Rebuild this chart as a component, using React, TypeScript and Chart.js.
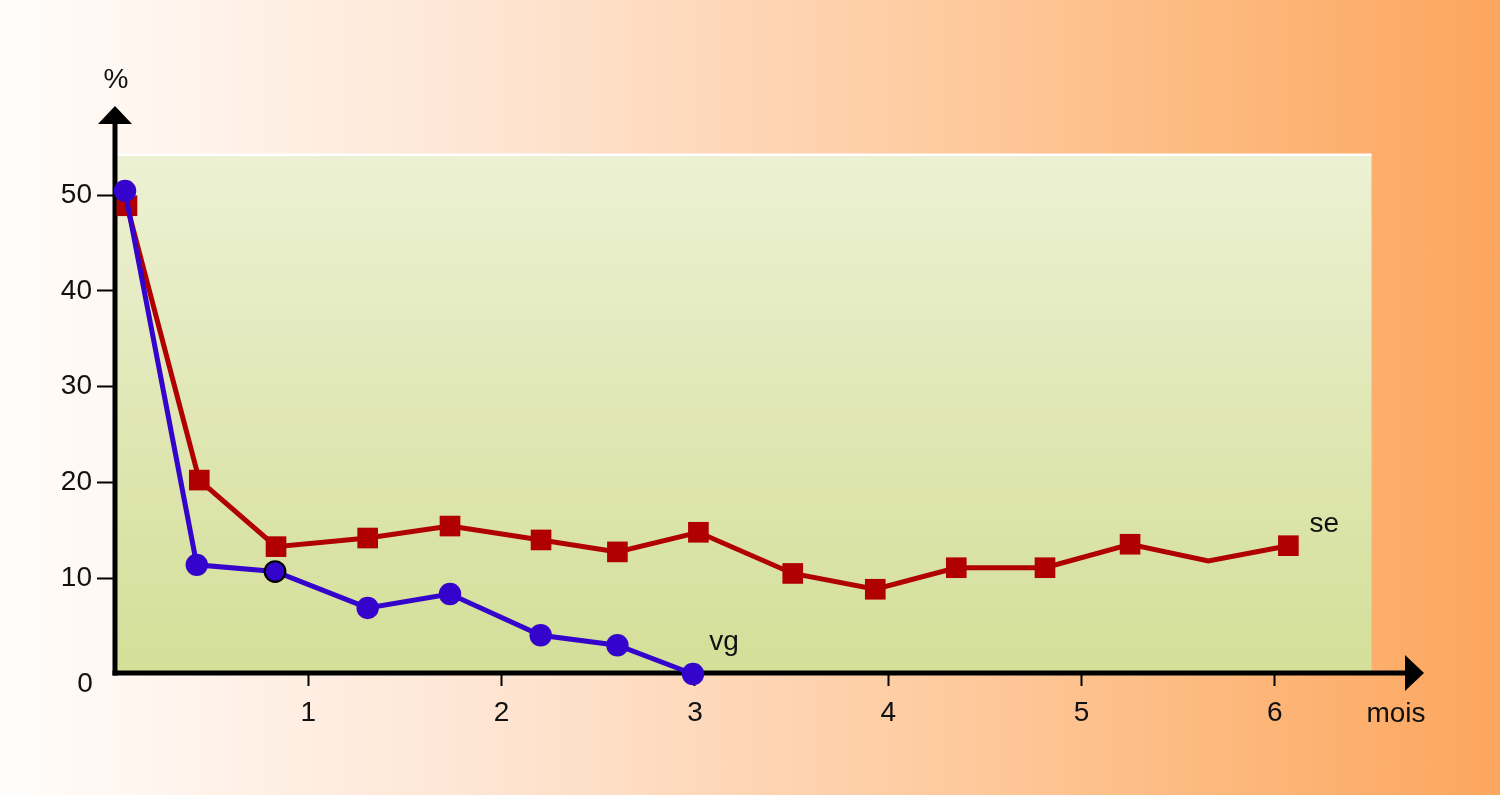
import React, { useEffect, useRef } from 'react';
import { Chart, registerables } from 'chart.js';

Chart.register(...registerables);

// ---- data ----
const seMonths = [0.062, 0.436, 0.833, 1.307, 1.733, 2.204, 2.599, 3.018, 3.506, 3.933, 4.352, 4.811, 5.251, 5.656, 6.07];
const seValues = [48.9, 20.25, 13.3, 14.2, 15.45, 14.0, 12.75, 14.8, 10.5, 8.85, 11.1, 11.1, 13.55, 11.8, 13.4];
const seMarked = [true, true, true, true, true, true, true, true, true, true, true, true, true, false, true];

const vgMonths = [0.052, 0.423, 0.828, 1.307, 1.733, 2.202, 2.599, 2.99];
const vgValues = [50.45, 11.4, 10.7, 6.9, 8.35, 4.05, 3.0, 0];
const vgOutlined = [false, false, true, false, false, false, false, false];

const xTicks = [1, 2, 3, 4, 5, 6];
const yTicks = [0, 10, 20, 30, 40, 50];

const xMax = 6.5;
const yMax = 54.2;

const seriesLabels = { se: 'se', vg: 'vg' };
const axisLabels = { y: '%', x: 'mois' };

const FONT = '"Liberation Sans", Arial, sans-serif';
const FONT_SIZE = 28;
const BLUE = '#3404cc';
const RED = '#b00000';

export default function App() {
  const canvasRef = useRef<HTMLCanvasElement | null>(null);

  useEffect(() => {
    if (!canvasRef.current) return;
    Chart.defaults.font.family = FONT;

    const backgroundPlugin = {
      id: 'plotBackground',
      beforeDraw(chart: any) {
        const { ctx, chartArea } = chart;
        const { left, right, top, bottom } = chartArea;
        ctx.save();
        const g = ctx.createLinearGradient(0, top, 0, bottom);
        g.addColorStop(0, '#edf1d4');
        g.addColorStop(0.5, '#e0e7b5');
        g.addColorStop(1, '#d4df98');
        ctx.fillStyle = g;
        ctx.fillRect(left, top, right - left, bottom - top);
        ctx.fillStyle = '#ffffff';
        ctx.fillRect(left, top - 1.5, right - left, 2.5);
        ctx.restore();
      },
    };

    const axesPlugin = {
      id: 'arrowAxes',
      beforeDatasetsDraw(chart: any) {
        const { ctx, chartArea } = chart;
        const { left, top, bottom } = chartArea;
        const yAxisX = left;
        const xAxisY = bottom - 1;
        ctx.save();
        ctx.strokeStyle = '#000';
        ctx.fillStyle = '#000';
        ctx.lineWidth = 5;
        // y axis
        ctx.beginPath();
        ctx.moveTo(yAxisX, xAxisY + 2.5);
        ctx.lineTo(yAxisX, top - 31);
        ctx.stroke();
        ctx.beginPath();
        ctx.moveTo(yAxisX - 17, top - 31);
        ctx.lineTo(yAxisX + 17, top - 31);
        ctx.lineTo(yAxisX, top - 49);
        ctx.closePath();
        ctx.fill();
        // x axis
        ctx.beginPath();
        ctx.moveTo(yAxisX - 2.5, xAxisY);
        ctx.lineTo(1407, xAxisY);
        ctx.stroke();
        ctx.beginPath();
        ctx.moveTo(1405, xAxisY - 18);
        ctx.lineTo(1405, xAxisY + 18);
        ctx.lineTo(1424, xAxisY);
        ctx.closePath();
        ctx.fill();
        ctx.restore();
      },
    };

    const textPlugin = {
      id: 'texts',
      afterDraw(chart: any) {
        const { ctx, chartArea, scales } = chart;
        const xs = scales.x;
        const ys = scales.y;
        ctx.save();
        ctx.fillStyle = '#111';
        ctx.font = `${FONT_SIZE}px ${FONT}`;
        ctx.textAlign = 'center';
        ctx.textBaseline = 'middle';
        // y axis unit
        ctx.fillText(axisLabels.y, chartArea.left + 1, chartArea.top - 75);
        // x axis unit
        ctx.fillText(axisLabels.x, 1396, chartArea.bottom + 40);
        // zero label on y axis (sits below the axis line)
        ctx.fillText('0', chartArea.left - 30, ys.getPixelForValue(0) + 10);
        // series labels
        const lastSe = seMonths.length - 1;
        ctx.fillText(seriesLabels.se, xs.getPixelForValue(seMonths[lastSe]) + 36, ys.getPixelForValue(seValues[lastSe]) - 21);
        const lastVg = vgMonths.length - 1;
        ctx.fillText(seriesLabels.vg, xs.getPixelForValue(vgMonths[lastVg]) + 31, ys.getPixelForValue(vgValues[lastVg]) - 32);
        ctx.restore();
      },
    };

    const chart = new Chart(canvasRef.current, {
      type: 'line',
      data: {
        datasets: [
          {
            label: seriesLabels.vg,
            data: vgMonths.map((m, i) => ({ x: m, y: vgValues[i] })),
            borderColor: BLUE,
            backgroundColor: BLUE,
            borderWidth: 5,
            pointStyle: 'circle',
            pointRadius: vgOutlined.map((o) => (o ? 10.3 : 11.2)),
            pointBackgroundColor: BLUE,
            pointBorderColor: vgOutlined.map((o) => (o ? '#000' : BLUE)),
            pointBorderWidth: vgOutlined.map((o) => (o ? 2.2 : 0)),
            fill: false,
            tension: 0,
            clip: false,
          } as any,
          {
            label: seriesLabels.se,
            data: seMonths.map((m, i) => ({ x: m, y: seValues[i] })),
            borderColor: RED,
            backgroundColor: RED,
            borderWidth: 5,
            pointStyle: 'rect',
            pointRadius: seMarked.map((mk) => (mk ? 14.6 : 0)),
            pointBackgroundColor: RED,
            pointBorderWidth: 0,
            fill: false,
            tension: 0,
            clip: false,
          } as any,
        ],
      },
      options: {
        animation: false,
        responsive: false,
        devicePixelRatio: 1,
        events: [],
        layout: { padding: { left: 0, top: 155, right: 128.5, bottom: 0 } },
        plugins: {
          legend: { display: false },
          tooltip: { enabled: false },
        },
        scales: {
          x: {
            type: 'linear',
            min: 0,
            max: xMax,
            afterFit: (s: any) => {
              s.height = 121;
            },
            afterBuildTicks: (s: any) => {
              s.ticks = xTicks.map((v) => ({ value: v }));
            },
            grid: {
              drawOnChartArea: false,
              drawTicks: true,
              tickLength: 12,
              tickWidth: 2,
              tickColor: '#000',
            },
            border: { display: false },
            ticks: {
              color: '#111',
              font: { size: FONT_SIZE, family: FONT },
              padding: 10,
              maxRotation: 0,
              autoSkip: false,
              callback: (v: any) => String(v),
            },
          },
          y: {
            type: 'linear',
            min: 0,
            max: yMax,
            afterFit: (s: any) => {
              s.width = 115;
            },
            afterBuildTicks: (s: any) => {
              s.ticks = yTicks.map((v) => ({ value: v }));
            },
            grid: {
              drawOnChartArea: false,
              drawTicks: true,
              tickLength: 18,
              tickWidth: 2,
              tickColor: (c: any) => (c.tick && c.tick.value === 0 ? 'rgba(0,0,0,0)' : '#000'),
            },
            border: { display: false },
            ticks: {
              color: '#111',
              font: { size: FONT_SIZE, family: FONT },
              padding: 5,
              autoSkip: false,
              callback: (v: any) => (v === 0 ? '' : String(v)),
            },
          },
        },
      } as any,
      plugins: [backgroundPlugin, axesPlugin, textPlugin],
    });

    return () => {
      chart.destroy();
    };
  }, []);

  return (
    <div
      style={{
        position: 'fixed',
        left: 0,
        top: 0,
        width: 1500,
        height: 795,
        background:
          'linear-gradient(to right, #fffdfb 0%, #fff4ec 12%, #fee3cf 35%, #fecda4 60%, #fdb87c 82%, #fca65e 100%)',
      }}
    >
      <canvas ref={canvasRef} width={1500} height={795} style={{ display: 'block' }} />
    </div>
  );
}
